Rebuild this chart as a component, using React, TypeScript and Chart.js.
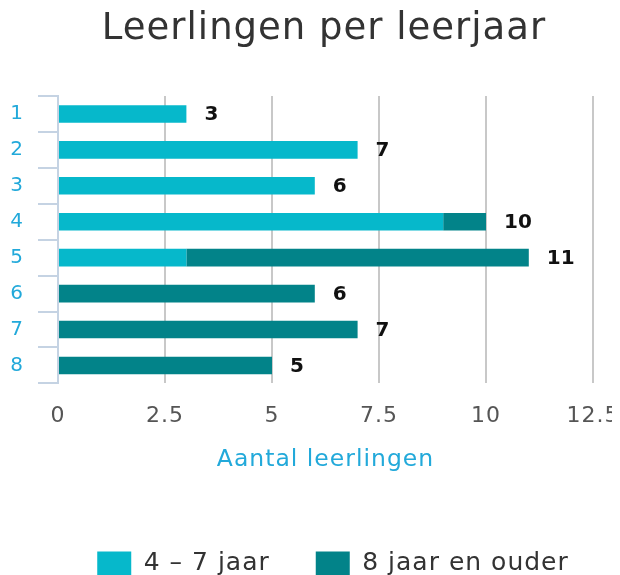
import React, { useEffect, useRef } from "react";
import { Chart, registerables } from "chart.js";

Chart.register(...registerables);

const categories = ["1", "2", "3", "4", "5", "6", "7", "8"];
const young = [3, 7, 6, 9, 3, 0, 0, 0];
const older = [0, 0, 0, 1, 8, 6, 7, 5];
const seriesNames = ["4 – 7 jaar", "8 jaar en ouder"];
const xTicks = [0, 2.5, 5, 7.5, 10, 12.5];

const FONT = "'DejaVu Sans', Verdana, sans-serif";

const spacingPlugin = {
  id: "spacing",
  beforeUpdate(chart: any) {
    chart.ctx.letterSpacing = "1px";
  },
  beforeLayout(chart: any) {
    chart.ctx.letterSpacing = "1px";
  },
  afterLayout(chart: any) {
    const lg = chart.legend;
    if (lg) {
      lg.left += 9;
      lg.right += 9;
      lg.top += 11;
      lg.bottom += 11;
    }
  },
  beforeDraw(chart: any) {
    chart.ctx.letterSpacing = "1px";
  },
};

const totalsPlugin = {
  id: "totals",
  afterDatasetsDraw(chart: any) {
    const { ctx } = chart;
    const meta = chart.getDatasetMeta(1);
    ctx.save();
    ctx.letterSpacing = "0px";
    ctx.font = `bold 20px ${FONT}`;
    ctx.fillStyle = "#111";
    ctx.textBaseline = "middle";
    ctx.textAlign = "left";
    categories.forEach((_, i) => {
      const total = young[i] + older[i];
      const x = chart.scales.x.getPixelForValue(total);
      const y = meta.data[i].y;
      ctx.fillText(String(total), x + 18, y + 1);
    });
    ctx.restore();
  },
};

export default function App() {
  const ref = useRef<HTMLCanvasElement>(null);
  useEffect(() => {
    if (!ref.current) return;
    const chart = new Chart(ref.current, {
      type: "bar",
      data: {
        labels: categories,
        datasets: [
          {
            label: seriesNames[0],
            data: young,
            backgroundColor: "#06b8cb",
            borderWidth: 0,
            barPercentage: 0.49,
            categoryPercentage: 1,
          },
          {
            label: seriesNames[1],
            data: older,
            backgroundColor: "#028389",
            borderWidth: 0,
            barPercentage: 0.49,
            categoryPercentage: 1,
          },
        ],
      },
      options: {
        indexAxis: "y",
        animation: false,
        responsive: true,
        maintainAspectRatio: false,
        layout: { padding: { left: 2, right: -18, top: 0, bottom: 0 } },
        scales: {
          x: {
            stacked: true,
            min: 0,
            max: 12.5,
            afterBuildTicks: (scale: any) => {
              scale.ticks = xTicks.map((v) => ({ value: v }));
            },
            afterFit: (scale: any) => {
              scale.paddingLeft = 0;
              scale.paddingRight = 27;
            },
            grid: {
              color: (c: any) => (c.tick && c.tick.value === 0 ? "rgba(0,0,0,0)" : "#c8c8c8"),
              lineWidth: 2,
              drawTicks: false,
            },
            border: { display: false },
            ticks: {
              color: "#555",
              font: { family: FONT, size: 22 },
              padding: 20,
              maxRotation: 0,
              autoSkip: false,
              callback: (v: any) => String(v),
            },
            title: {
              display: true,
              text: "Aantal leerlingen",
              color: "#22a9da",
              font: { family: FONT, size: 23.5 },
              padding: { top: -4, bottom: 20 },
            },
          },
          y: {
            stacked: true,
            afterFit: (scale: any) => {
              scale.width = 48;
            },
            grid: {
              display: true,
              drawOnChartArea: false,
              drawTicks: true,
              tickLength: 20,
              color: "#c5d3e3",
              lineWidth: 2,
              offset: true,
            },
            border: { display: true, color: "#c5d3e3", width: 2 },
            ticks: {
              color: "#22a9da",
              font: { family: FONT, size: 20 },
              padding: 14,
              autoSkip: false,
            },
          },
        },
        plugins: {
          title: {
            display: true,
            text: "Leerlingen per leerjaar",
            color: "#333",
            font: { family: FONT, size: 37, weight: "normal", lineHeight: 1 },
            padding: { top: 2.5, bottom: 48.5 },
          },
          legend: {
            position: "bottom",
            labels: {
              color: "#333",
              font: { family: FONT, size: 25 },
              boxWidth: 34,
              boxHeight: 24,
              padding: 46,
            },
          },
          tooltip: { enabled: false },
        },
      },
      plugins: [spacingPlugin, totalsPlugin],
    });
    return () => chart.destroy();
  }, []);
  return (
    <div style={{ width: 612, height: 567 }}>
      <canvas ref={ref} />
    </div>
  );
}
